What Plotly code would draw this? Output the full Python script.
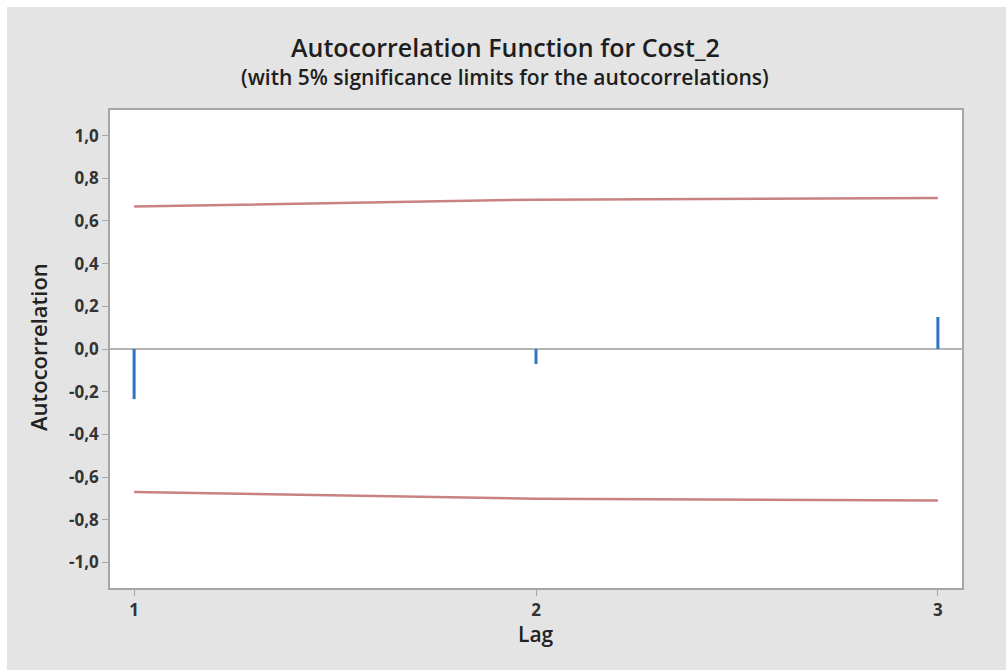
import plotly.graph_objects as go

# Data
lags = [1, 2, 3]
acf = [-0.235, -0.07, 0.15]
upper_limit = [0.668, 0.700, 0.708]
lower_limit = [-0.670, -0.702, -0.710]
y_tick_vals = [-1.0, -0.8, -0.6, -0.4, -0.2, 0.0, 0.2, 0.4, 0.6, 0.8, 1.0]
y_tick_text = ["-1,0", "-0,8", "-0,6", "-0,4", "-0,2", "0,0", "0,2", "0,4", "0,6", "0,8", "1,0"]
x_tick_vals = [1, 2, 3]
x_tick_text = ["1", "2", "3"]

FONT = "Open Sans"
BG = "#e4e4e4"
AX = "#a6a6a6"

# spikes built from data
sx, sy = [], []
for l, v in zip(lags, acf):
    sx += [l, l, None]
    sy += [0, v, None]

fig = go.Figure()
fig.add_trace(go.Scatter(x=lags, y=upper_limit, mode="lines",
                         line=dict(color="#c98282", width=2.5), hoverinfo="skip"))
fig.add_trace(go.Scatter(x=lags, y=lower_limit, mode="lines",
                         line=dict(color="#c98282", width=2.5), hoverinfo="skip"))
fig.add_trace(go.Scatter(x=sx, y=sy, mode="lines",
                         line=dict(color="#2f74c4", width=3), hoverinfo="skip"))

L, R, T, B = 110, 44, 110, 82
W, H = 1006, 670
pw, ph = W - L - R, H - T - B

fig.update_layout(
    width=W, height=H,
    margin=dict(l=L, r=R, t=T, b=B),
    paper_bgcolor="white",
    plot_bgcolor="white",
    showlegend=False,
    font=dict(family=FONT, color="#333333"),
    shapes=[
        dict(type="rect", xref="paper", yref="paper", layer="below",
             x0=(7 - L) / pw, x1=(W + 5 - L) / pw,
             y0=(T + ph - H - 5) / ph, y1=(T + ph - 7) / ph,
             fillcolor=BG, line=dict(width=0)),
        dict(type="rect", xref="paper", yref="paper", layer="below",
             x0=0, x1=1, y0=0, y1=1,
             fillcolor="white", line=dict(width=0)),
    ],
    annotations=[
        dict(text="Autocorrelation Function for Cost_2", xref="paper", yref="paper",
             x=(505 - L) / pw, y=(T + ph - 47) / ph, showarrow=False,
             font=dict(family=FONT, size=25, color="#1e1e1e", weight=600),
             xanchor="center", yanchor="middle"),
        dict(text="(with 5% significance limits for the autocorrelations)", xref="paper", yref="paper",
             x=(505 - L) / pw, y=(T + ph - 77) / ph, showarrow=False,
             font=dict(family=FONT, size=21, color="#1e1e1e", weight=600),
             xanchor="center", yanchor="middle"),
        dict(text="Autocorrelation", xref="paper", yref="paper",
             x=(38 - L) / pw, y=(T + ph - 347) / ph, showarrow=False, textangle=-90,
             font=dict(family=FONT, size=22, color="#222222", weight=600),
             xanchor="center", yanchor="middle"),
        dict(text="Lag", xref="paper", yref="paper",
             x=(536 - L) / pw, y=(T + ph - 634) / ph, showarrow=False,
             font=dict(family=FONT, size=21, color="#222222", weight=600),
             xanchor="center", yanchor="middle"),
    ],
)

fig.update_xaxes(range=[0.94, 3.06], tickvals=x_tick_vals, ticktext=x_tick_text,
                 showgrid=False, zeroline=False, showline=True, mirror=True,
                 linecolor=AX, linewidth=1.5, ticks="outside", ticklen=6, tickcolor=AX,
                 tickwidth=1, tickfont=dict(family=FONT, size=17, color="#333333", weight=700))
fig.update_yaxes(range=[-1.12, 1.12], tickvals=y_tick_vals, ticktext=y_tick_text,
                 showgrid=False, zeroline=True, zerolinecolor="#b4b4b4", zerolinewidth=1.5,
                 showline=True, mirror=True,
                 linecolor=AX, linewidth=1.5, ticks="outside", ticklen=6, tickcolor=AX,
                 tickwidth=1, tickfont=dict(family=FONT, size=17, color="#333333", weight=700))

fig.write_html("out.html")
